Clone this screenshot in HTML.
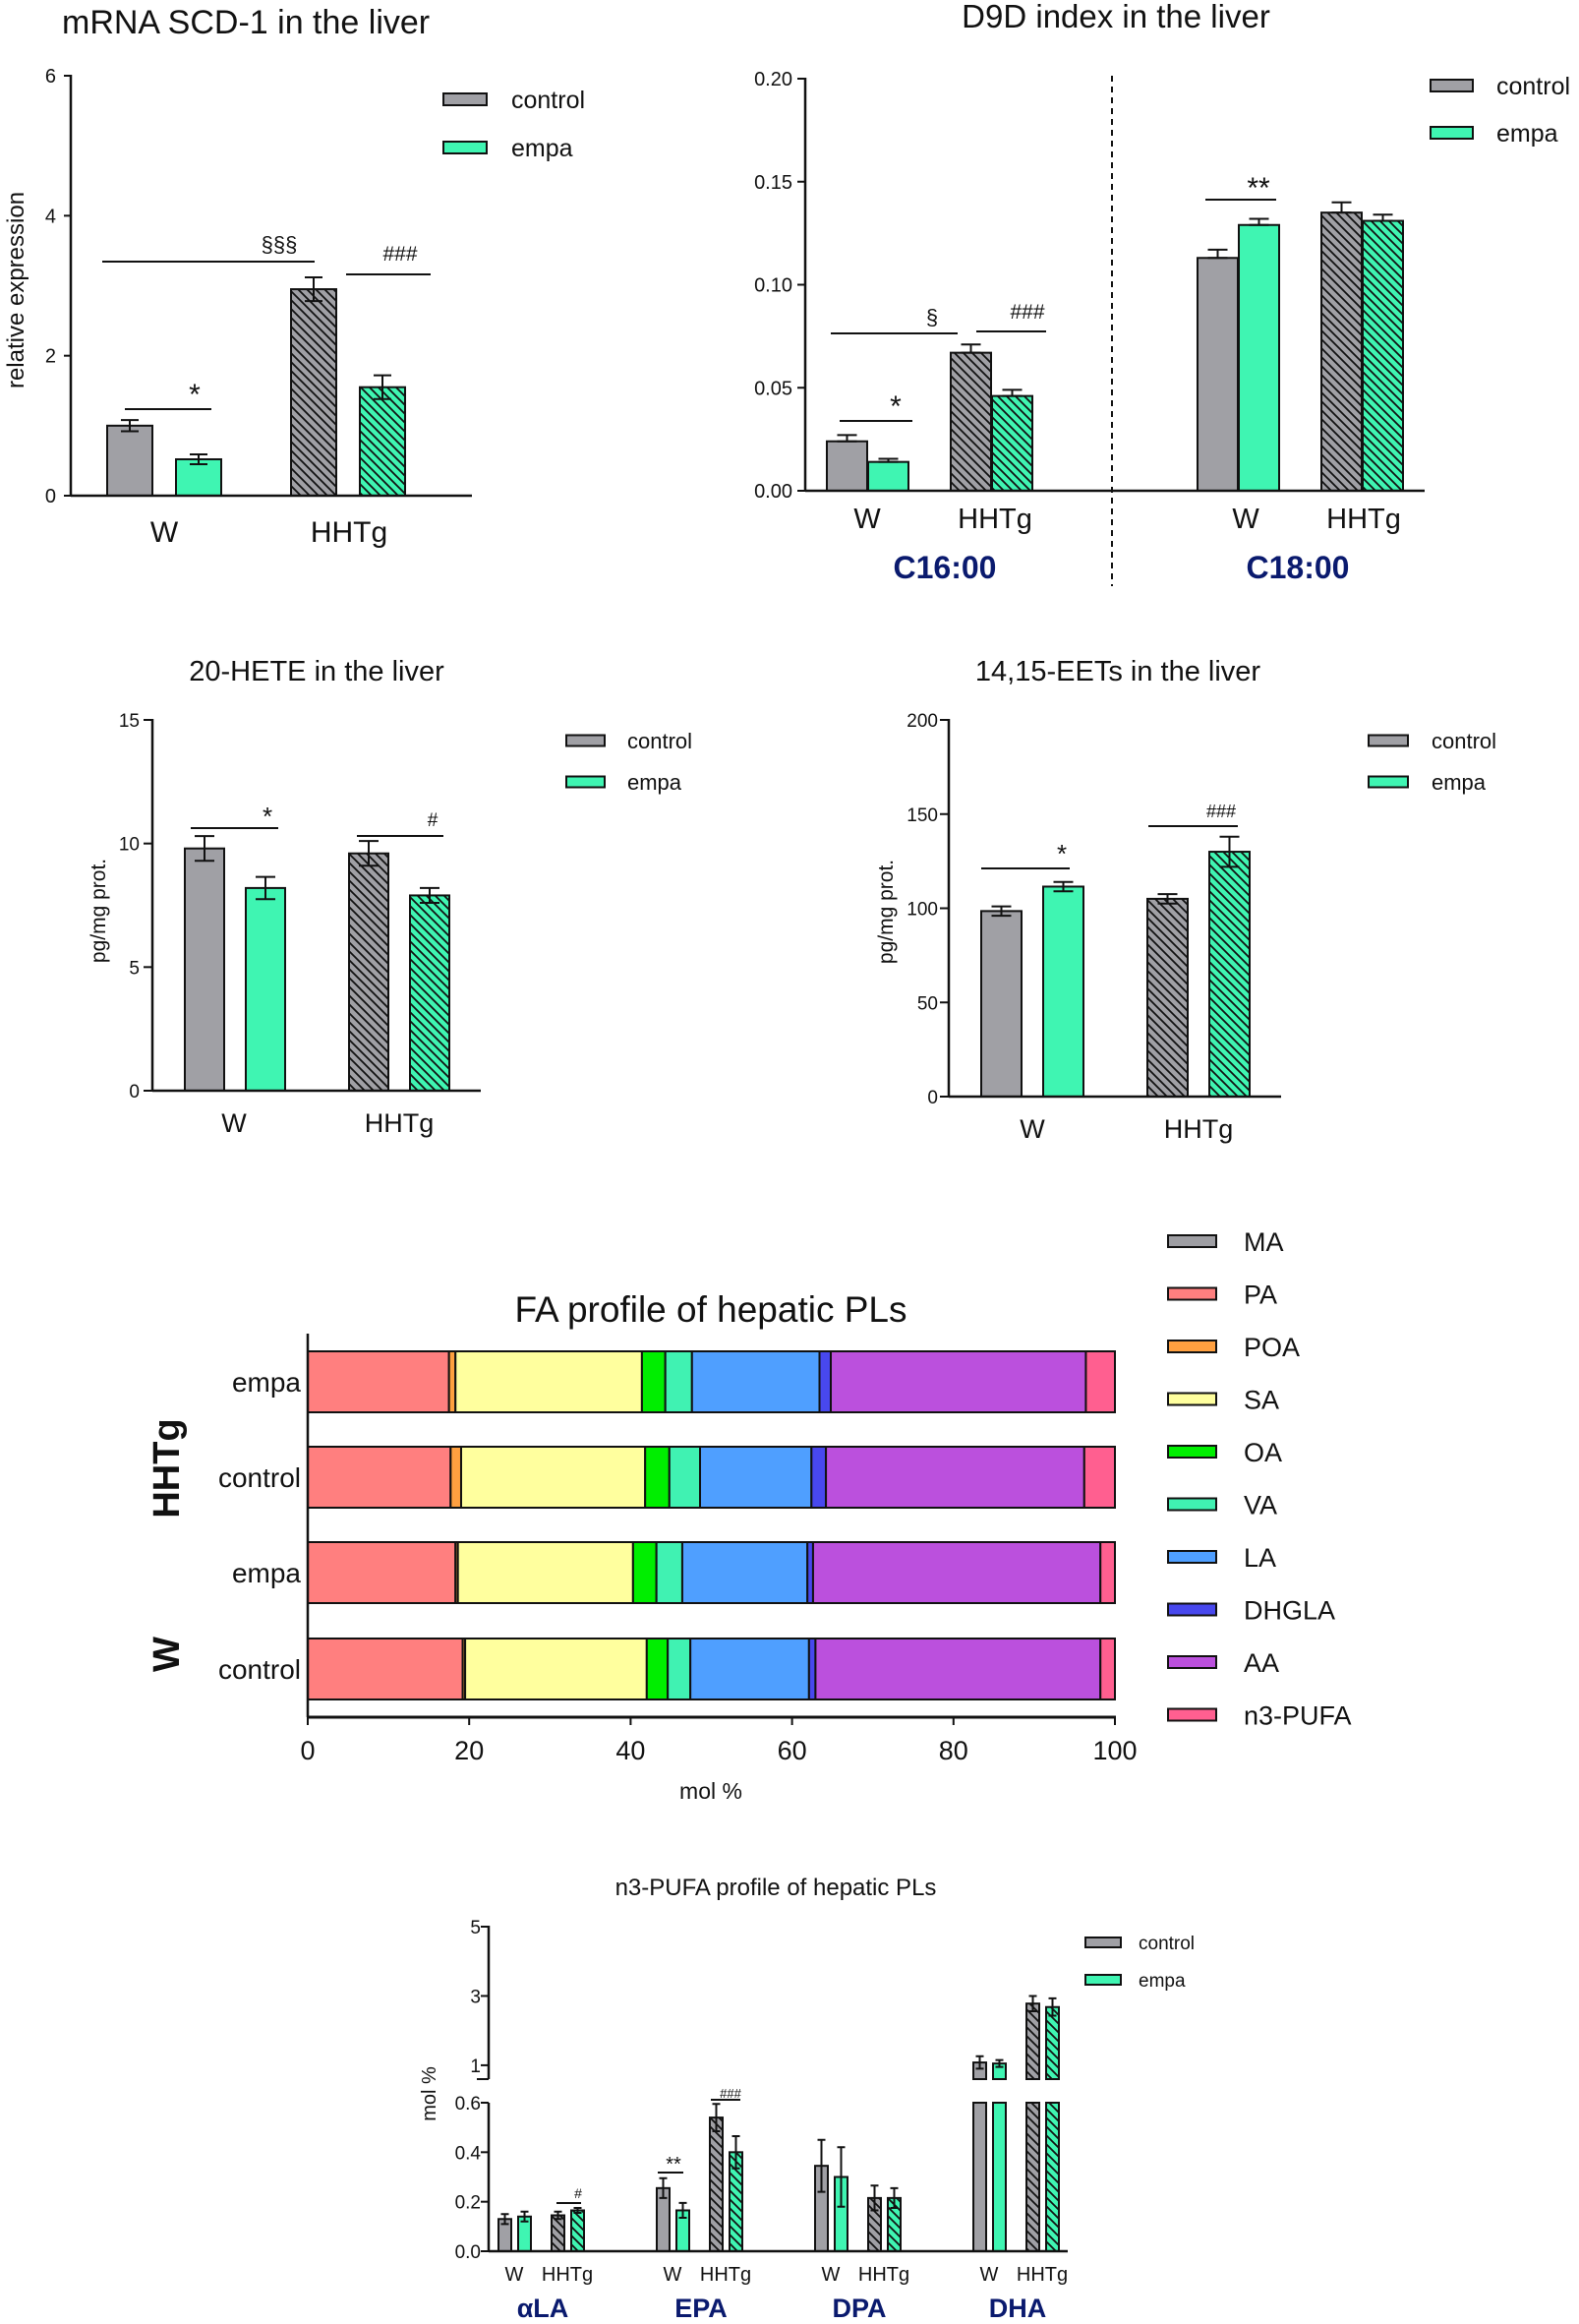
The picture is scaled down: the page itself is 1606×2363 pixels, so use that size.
<!DOCTYPE html>
<html><head><meta charset="utf-8"><title>Liver lipid figure</title>
<style>
html,body{margin:0;padding:0;background:#fff;}
svg{display:block;font-family:"Liberation Sans",Arial,sans-serif;}
</style></head>
<body>
<svg id="fig" xmlns="http://www.w3.org/2000/svg" width="1606" height="2363" viewBox="0 0 1606 2363">
<defs>
<pattern id="hatchGray" patternUnits="userSpaceOnUse" width="9" height="9">
<rect width="9" height="9" fill="#a0a0a5"/>
<path d="M-2,-2 L11,11 M-6.5,2.5 L2.5,11.5 M2.5,-6.5 L11.5,2.5" stroke="#111" stroke-width="1.8"/>
</pattern>
<pattern id="hatchGreen" patternUnits="userSpaceOnUse" width="9" height="9">
<rect width="9" height="9" fill="#3ff5b2"/>
<path d="M-2,-2 L11,11 M-6.5,2.5 L2.5,11.5 M2.5,-6.5 L11.5,2.5" stroke="#111" stroke-width="1.8"/>
</pattern>
</defs>
</svg>
<script>
// ---------- data ----------
const groupLabels = ['W', 'HHTg'];
const seriesLabels = ['control', 'empa'];

const scdValues = [1.0, 0.52, 2.95, 1.55];
const scdErrors = [0.08, 0.07, 0.17, 0.17];
const scdTicks = [0, 2, 4, 6];

const d9dValues = [0.024, 0.014, 0.067, 0.046, 0.113, 0.129, 0.135, 0.131];
const d9dErrors = [0.003, 0.0015, 0.004, 0.003, 0.004, 0.003, 0.005, 0.003];
const d9dTicks = ['0.00', '0.05', '0.10', '0.15', '0.20'];
const d9dPanels = ['C16:00', 'C18:00'];

const heteValues = [9.8, 8.2, 9.6, 7.9];
const heteErrors = [0.5, 0.45, 0.5, 0.3];
const heteTicks = [0, 5, 10, 15];

const eetValues = [98.5, 111.5, 105, 130];
const eetErrors = [2.5, 2.5, 2.5, 8];
const eetTicks = [0, 50, 100, 150, 200];

const faNames = ['MA', 'PA', 'POA', 'SA', 'OA', 'VA', 'LA', 'DHGLA', 'AA', 'n3-PUFA'];
const faColors = ['#9e9ea3', '#ff7f7f', '#ffa040', '#ffff9e', '#00ee00', '#40f2b2', '#4f9fff', '#4848ee', '#bb50dd', '#ff5f90'];
const faRows = ['empa', 'control', 'empa', 'control'];
const faRowGroups = ['HHTg', 'HHTg', 'W', 'W'];
const faHHTgEmpa = [0, 17.5, 0.8, 23.1, 2.9, 3.3, 15.8, 1.4, 31.6, 3.6];
const faHHTgControl = [0, 17.7, 1.3, 22.8, 3.0, 3.8, 13.8, 1.8, 32.0, 3.8];
const faWEmpa = [0, 18.3, 0.3, 21.7, 2.9, 3.2, 15.5, 0.7, 35.6, 1.8];
const faWControl = [0, 19.2, 0.3, 22.5, 2.6, 2.8, 14.7, 0.8, 35.3, 1.8];
const faTicks = [0, 20, 40, 60, 80, 100];

const n3Names = ['αLA', 'EPA', 'DPA', 'DHA'];
const n3Values = [0.13, 0.14, 0.145, 0.165, 0.255, 0.165, 0.54, 0.40, 0.345, 0.30, 0.215, 0.215, 1.08, 1.05, 2.78, 2.68];
const n3Errors = [0.02, 0.02, 0.015, 0.01, 0.04, 0.03, 0.055, 0.065, 0.105, 0.12, 0.05, 0.04, 0.18, 0.10, 0.22, 0.25];
const n3TicksLow = ['0.0', '0.2', '0.4', '0.6'];
const n3TicksHigh = [1, 3, 5];

// ---------- helpers ----------
const NS = 'http://www.w3.org/2000/svg';
const svg = document.getElementById('fig');
function mk(tag, attrs, parent, text) {
  const e = document.createElementNS(NS, tag);
  for (const k in attrs) e.setAttribute(k, attrs[k]);
  if (text !== undefined) e.textContent = text;
  (parent || svg).appendChild(e);
  return e;
}
function grp(name) {
  const g = mk('g', {});
  
  
  return g;
}
const GRAY = '#a0a0a5', GREEN = '#3ff5b2';
function fillFor(group, s) {
  if (group === 0) return s === 0 ? GRAY : GREEN;
  return s === 0 ? 'url(#hatchGray)' : 'url(#hatchGreen)';
}
function bar(g, x, w, y0, y1, fill, name) {
  const r = mk('rect', {x: x, y: Math.min(y0, y1), width: w, height: Math.abs(y1 - y0), fill: fill, stroke: '#111', 'stroke-width': 2}, g);
  
  
  return r;
}
function errbar(g, cx, yLo, yHi, cap, name) {
  const e = mk('path', {d: `M${cx},${yLo} V${yHi} M${cx - cap},${yHi} H${cx + cap} M${cx - cap},${yLo} H${cx + cap}`, stroke: '#111', 'stroke-width': 2, fill: 'none'}, g);
  
  
}
function line(g, x1, y1, x2, y2, w, extra) {
  return mk('line', Object.assign({x1: x1, y1: y1, x2: x2, y2: y2, stroke: '#111', 'stroke-width': w || 2}, extra || {}), g);
}
function text(g, x, y, str, size, anchor, extra) {
  return mk('text', Object.assign({x: x, y: y, 'font-size': size, 'text-anchor': anchor || 'middle', fill: '#111'}, extra || {}), g, str);
}
function legend(g, x, ys, tx, sw, sh, size) {
  seriesLabels.forEach((lab, i) => {
    const r = mk('rect', {x: x, y: ys[i] - sh / 2, width: sw, height: sh, fill: i === 0 ? GRAY : GREEN, stroke: '#111', 'stroke-width': 2}, g);
    
    
    const t = text(g, tx, ys[i] + size * 0.36, lab, size, 'start');
    
    
  });
}
function sig(g, x1, x2, y, sym, tx, ty, size, name) {
  line(g, x1, y, x2, y, 2);
  const t = text(g, tx, ty, sym, size, 'middle');
  
  
}

// ---------- Chart 1: SCD-1 ----------
(function () {
  const g = grp('scd1-chart');
  const ax = 72, y0 = 504, yTop = 77, vmax = 6;
  const y = v => y0 - v / vmax * (y0 - yTop);
  const t = text(g, 63, 34, 'mRNA SCD-1 in the liver', 34, 'start');  
  scdTicks.forEach(v => { line(g, ax - 7, y(v), ax, y(v), 2); text(g, 57, y(v) + 7, String(v), 20, 'end'); });
  line(g, ax, yTop - 1, ax, y0 + 1, 2.5);
  const yl = text(g, 0, 0, 'relative expression', 24, 'middle', {transform: 'translate(24,295) rotate(-90)'});
   
  scdValues.forEach((v, i) => {
    const gi = Math.floor(i / 2), s = i % 2, w = 46;
    const x = 109 + gi * 187 + s * 70;
    bar(g, x, w, y0, y(v), fillFor(gi, s), 'bar-' + groupLabels[gi] + '-' + seriesLabels[s]);
    errbar(g, x + w / 2, y(v - scdErrors[i]), y(v + scdErrors[i]), 9, 'error-bar');
  });
  line(g, ax, y0, 480, y0, 2.5);
  groupLabels.forEach((lab, gi) => text(g, 167 + gi * 188, 551, lab, 30));
  legend(g, 451, [101, 150], 520, 44, 12, 25);
  sig(g, 104, 320, 266, '§§§', 284, 256, 22, 'sig-sss');
  sig(g, 352, 438, 279, '###', 407, 265, 21, 'sig-hash');
  sig(g, 127, 215, 416, '*', 198, 411, 30, 'sig-star');
})();

// ---------- Chart 2: D9D ----------
(function () {
  const g = grp('d9d-chart');
  const ax = 819, y0 = 499, yTop = 80, vmax = 0.2;
  const y = v => y0 - v / vmax * (y0 - yTop);
  const t = text(g, 1135, 28, 'D9D index in the liver', 33);  
  d9dTicks.forEach(lab => { const v = parseFloat(lab); line(g, ax - 8, y(v), ax, y(v), 2); text(g, 806, y(v) + 7, lab, 20, 'end'); });
  line(g, ax, yTop - 1, ax, y0 + 1, 2.5);
  d9dValues.forEach((v, i) => {
    const panel = Math.floor(i / 4), gi = Math.floor(i / 2) % 2, s = i % 2, w = 41;
    const x = 841 + panel * 377 + gi * 126 + s * 42;
    bar(g, x, w, y0, y(v), fillFor(gi, s), 'bar-' + d9dPanels[panel] + '-' + groupLabels[gi] + '-' + seriesLabels[s]);
    errbar(g, x + w / 2, y(v), y(v + d9dErrors[i]), 10, 'error-bar');
  });
  line(g, ax, y0, 1449, y0, 2.5);
  const dl = line(g, 1131, 77, 1131, 596, 2, {'stroke-dasharray': '6,5'});
   
  d9dPanels.forEach((p, pi) => {
    groupLabels.forEach((lab, gi) => text(g, 882 + pi * 385 + gi * 130 - (gi ? pi * 10 : 0), 537, lab, 29));
    const pt = text(g, 961 + pi * 359, 588, p, 32, 'middle', {fill: '#0a1a6e', 'font-weight': 'bold'});
     
  });
  legend(g, 1455, [87, 135], 1522, 43, 12, 25);
  sig(g, 854, 928, 428, '*', 911, 423, 30, 'sig-star');
  sig(g, 845, 974, 339, '§', 948, 330, 22, 'sig-s');
  sig(g, 993, 1064, 337, '###', 1045, 324, 21, 'sig-hash');
  sig(g, 1226, 1298, 203, '**', 1280, 201, 30, 'sig-2star');
})();

// ---------- Chart 3: 20-HETE ----------
(function () {
  const g = grp('hete-chart');
  const ax = 155, y0 = 1109, yTop = 732, vmax = 15;
  const y = v => y0 - v / vmax * (y0 - yTop);
  const t = text(g, 322, 692, '20-HETE in the liver', 29);  
  heteTicks.forEach(v => { line(g, ax - 9, y(v), ax, y(v), 2); text(g, 142, y(v) + 7, String(v), 19, 'end'); });
  line(g, ax, yTop - 1, ax, y0 + 1, 2.5);
  const yl = text(g, 0, 0, 'pg/mg prot.', 21, 'middle', {transform: 'translate(107,926) rotate(-90)'});
   
  heteValues.forEach((v, i) => {
    const gi = Math.floor(i / 2), s = i % 2, w = 40;
    const x = 188 + gi * 167 + s * 62;
    bar(g, x, w, y0, y(v), fillFor(gi, s), 'bar-' + groupLabels[gi] + '-' + seriesLabels[s]);
    errbar(g, x + w / 2, y(v - heteErrors[i]), y(v + heteErrors[i]), 10, 'error-bar');
  });
  line(g, ax, y0, 489, y0, 2.5);
  groupLabels.forEach((lab, gi) => text(g, 238 + gi * 168, 1151, lab, 27));
  legend(g, 576, [753, 795], 638, 39, 11, 22);
  sig(g, 194, 283, 842, '*', 272, 839, 26, 'sig-star');
  sig(g, 363, 451, 850, '#', 440, 840, 19, 'sig-hash');
})();

// ---------- Chart 4: 14,15-EETs ----------
(function () {
  const g = grp('eet-chart');
  const ax = 965, y0 = 1115, yTop = 732, vmax = 200;
  const y = v => y0 - v / vmax * (y0 - yTop);
  const t = text(g, 1137, 692, '14,15-EETs in the liver', 29);  
  eetTicks.forEach(v => { line(g, ax - 9, y(v), ax, y(v), 2); text(g, 954, y(v) + 7, String(v), 19, 'end'); });
  line(g, ax, yTop - 1, ax, y0 + 1, 2.5);
  const yl = text(g, 0, 0, 'pg/mg prot.', 21, 'middle', {transform: 'translate(908,927) rotate(-90)'});
   
  eetValues.forEach((v, i) => {
    const gi = Math.floor(i / 2), s = i % 2, w = 41;
    const x = 998 + gi * 169 + s * 63;
    bar(g, x, w, y0, y(v), fillFor(gi, s), 'bar-' + groupLabels[gi] + '-' + seriesLabels[s]);
    errbar(g, x + w / 2, y(v - eetErrors[i]), y(v + eetErrors[i]), 10, 'error-bar');
  });
  line(g, ax, y0, 1303, y0, 2.5);
  groupLabels.forEach((lab, gi) => text(g, 1050 + gi * 169, 1157, lab, 27));
  legend(g, 1392, [753, 795], 1456, 40, 11, 22);
  sig(g, 998, 1088, 883, '*', 1080, 877, 26, 'sig-star');
  sig(g, 1168, 1259, 840, '###', 1242, 831, 18, 'sig-hash');
})();

// ---------- Chart 5: FA profile stacked ----------
(function () {
  const g = grp('fa-profile-chart');
  const ax = 313, axEnd = 1134;
  const x = v => ax + v / 100 * (axEnd - ax);
  const rowsData = [faHHTgEmpa, faHHTgControl, faWEmpa, faWControl];
  const rowTops = [1374, 1471, 1568, 1666], h = 62;
  const t = text(g, 723, 1344, 'FA profile of hepatic PLs', 37);  
  rowsData.forEach((row, ri) => {
    let acc = 0;
    row.forEach((v, k) => {
      if (v > 0) {
        const r = mk('rect', {x: x(acc), y: rowTops[ri], width: x(acc + v) - x(acc), height: h, fill: faColors[k], stroke: '#111', 'stroke-width': 2}, g);
        
        
      }
      acc += v;
    });
    const rl = text(g, 306, rowTops[ri] + h / 2 + 10, faRows[ri], 28, 'end');
     
  });
  line(g, ax, 1356, ax, 1746, 2.5);
  line(g, ax, 1746, axEnd + 1, 1746, 3);
  faTicks.forEach(v => { line(g, x(v), 1746, x(v), 1754, 2); text(g, x(v), 1789, String(v), 27); });
  const xt = text(g, 723, 1829, 'mol %', 23);  
  const g1 = text(g, 0, 0, 'HHTg', 38, 'middle', {transform: 'translate(182,1493) rotate(-90)', 'font-weight': 'bold'});
   
  const g2 = text(g, 0, 0, 'W', 38, 'middle', {transform: 'translate(182,1682) rotate(-90)', 'font-weight': 'bold'});
   
  faNames.forEach((n, k) => {
    const yy = 1262 + k * 53.5;
    const r = mk('rect', {x: 1188, y: yy - 6, width: 49, height: 12, fill: faColors[k], stroke: '#111', 'stroke-width': 2}, g);
    
    
    const tt = text(g, 1265, yy + 10, n, 27, 'start');
    
    
  });
})();

// ---------- Chart 6: n3-PUFA broken axis ----------
(function () {
  const g = grp('n3-pufa-chart');
  const ax = 497, y0 = 2289, yLowTop = 2138, lowMax = 0.6;
  const hiBottom = 2114, hiTop = 1959, hiMin = 0.6, hiMax = 5;
  const yLow = v => y0 - Math.min(v, lowMax) / lowMax * (y0 - yLowTop);
  const yHi = v => hiBottom - (v - hiMin) / (hiMax - hiMin) * (hiBottom - hiTop);
  const y = v => v <= lowMax ? yLow(v) : yHi(v);
  const t = text(g, 789, 1927, 'n3-PUFA profile of hepatic PLs', 24);  
  n3TicksLow.forEach(lab => { const v = parseFloat(lab); line(g, ax - 8, yLow(v), ax, yLow(v), 2); text(g, 489, yLow(v) + 7, lab, 19, 'end'); });
  n3TicksHigh.forEach(v => { line(g, ax - 8, yHi(v), ax, yHi(v), 2); text(g, 489, yHi(v) + 7, String(v), 19, 'end'); });
  line(g, ax - 12, hiBottom, ax, hiBottom, 2);
  line(g, ax, hiTop - 1, ax, hiBottom, 2.5);
  line(g, ax, yLowTop, ax, y0 + 1, 2.5);
  const yl = text(g, 0, 0, 'mol %', 20, 'middle', {transform: 'translate(443,2129) rotate(-90)'});
   
  n3Values.forEach((v, i) => {
    const c = Math.floor(i / 4), gi = Math.floor(i / 2) % 2, s = i % 2, w = 13;
    const x = 507 + c * 161 + gi * 54 + s * 20;
    const f = fillFor(gi, s), nm = 'bar-' + n3Names[c] + '-' + groupLabels[gi] + '-' + seriesLabels[s];
    if (v <= lowMax) {
      bar(g, x, w, y0, yLow(v), f, nm);
    } else {
      bar(g, x, w, y0, yLowTop, f, nm);
      bar(g, x, w, hiBottom, yHi(v), f, nm + '-upper');
    }
    const e = n3Errors[i];
    errbar(g, x + w / 2, y(v - e), y(v + e), 4, 'error-bar');
  });
  line(g, ax, y0, 1086, y0, 2.5);
  n3Names.forEach((n, c) => {
    text(g, 523 + c * 161, 2319, 'W', 20);
    text(g, 577 + c * 161, 2319, 'HHTg', 20);
    const nl = text(g, 552 + c * 161, 2356, n, 27, 'middle', {fill: '#0a1a6e', 'font-weight': 'bold'});
     
  });
  legend(g, 1104, [1975, 2013], 1158, 36, 10, 19);
  sig(g, 566, 591, 2240, '#', 588, 2235, 14, 'sig-hash');
  sig(g, 669, 695, 2209, '**', 685, 2207, 20, 'sig-2star');
  sig(g, 723, 753, 2135, '###', 743, 2133, 13, 'sig-hash3');
})();
</script>
</body></html>
